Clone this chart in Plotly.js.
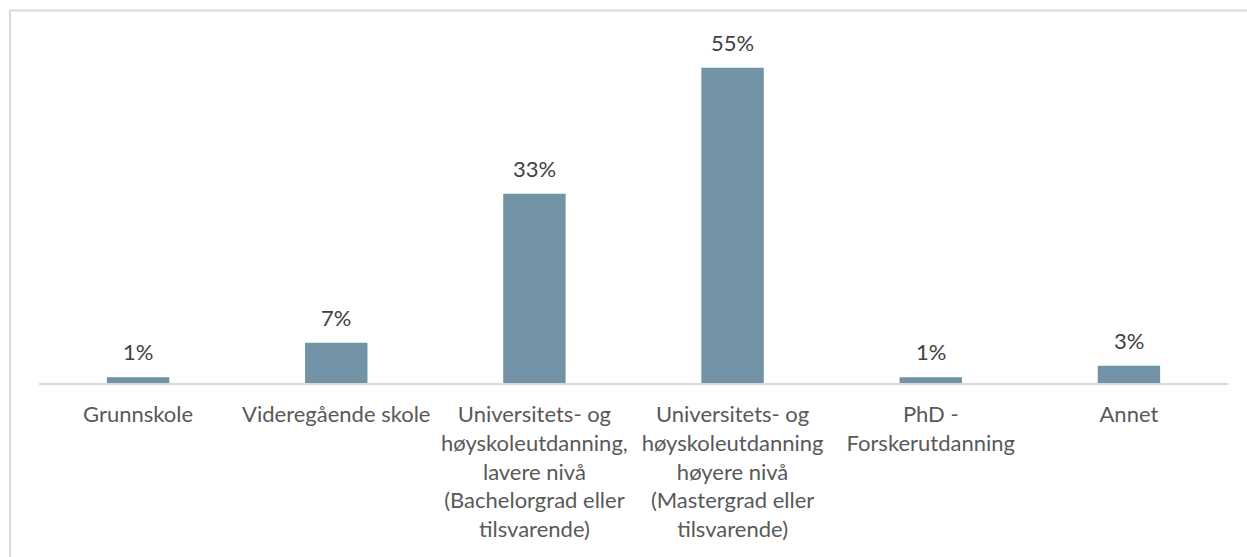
<!DOCTYPE html>
<html>
<head>
<meta charset="utf-8">
<script src="https://cdn.plot.ly/plotly-3.0.1.min.js"></script>
<style>
  html, body { margin: 0; padding: 0; background: #fff; }
  #chart { width: 1247px; height: 557px; }
</style>
</head>
<body>
<div id="chart"></div>
<script>
// ── Data ─────────────────────────────────────────────────────────────────────
const categories = [
  'Grunnskole',
  'Videregående skole',
  'Universitets- og<br>høyskoleutdanning,<br>lavere nivå<br>(Bachelorgrad eller<br>tilsvarende)',
  'Universitets- og<br>høyskoleutdanning<br>høyere nivå<br>(Mastergrad eller<br>tilsvarende)',
  'PhD -<br>Forskerutdanning',
  'Annet'
];
const shares = [1, 7, 33, 55, 1, 3];
const shareLabels = ['1%', '7%', '33%', '55%', '1%', '3%'];

// ── Style ────────────────────────────────────────────────────────────────────
const BAR_COLOR = '#7292a6';
const FONT = 'Lato, Carlito, Calibri, sans-serif';

const bars = {
  type: 'bar',
  x: categories,
  y: shares,
  marker: { color: BAR_COLOR },
  hoverinfo: 'skip'
};

// data labels sit above bars, offset in pixels
const labels = categories.map((c, i) => ({
  x: c,
  y: shares[i],
  text: shareLabels[i],
  showarrow: false,
  yanchor: 'bottom',
  yshift: 10,
  font: { family: FONT, size: 22, color: '#404040' }
}));

const layout = {
  width: 1247,
  height: 557,
  paper_bgcolor: '#fff',
  plot_bgcolor: '#fff',
  margin: { l: 39, r: 19, t: 39, b: 174 },
  bargap: 0.685,
  showlegend: false,
  font: { family: FONT },
  xaxis: {
    type: 'category',
    showline: true,
    linecolor: '#d9d9d9',
    linewidth: 2,
    ticks: '',
    ticklabelstandoff: 11,
    tickfont: { family: FONT, size: 22, color: '#595959' },
    tickangle: 0
  },
  yaxis: {
    range: [0, 60],
    visible: false,
    showgrid: false,
    zeroline: false
  },
  annotations: labels,
  shapes: [{
    type: 'rect',
    xref: 'paper', yref: 'paper',
    x0: -0.0244, x1: 1.2,
    y0: -1, y1: 1.0828,
    line: { color: '#d9d9d9', width: 2 },
    fillcolor: 'rgba(0,0,0,0)',
    layer: 'below'
  }]
};

Plotly.newPlot('chart', [bars], layout, { displayModeBar: false, staticPlot: true });
</script>
</body>
</html>
